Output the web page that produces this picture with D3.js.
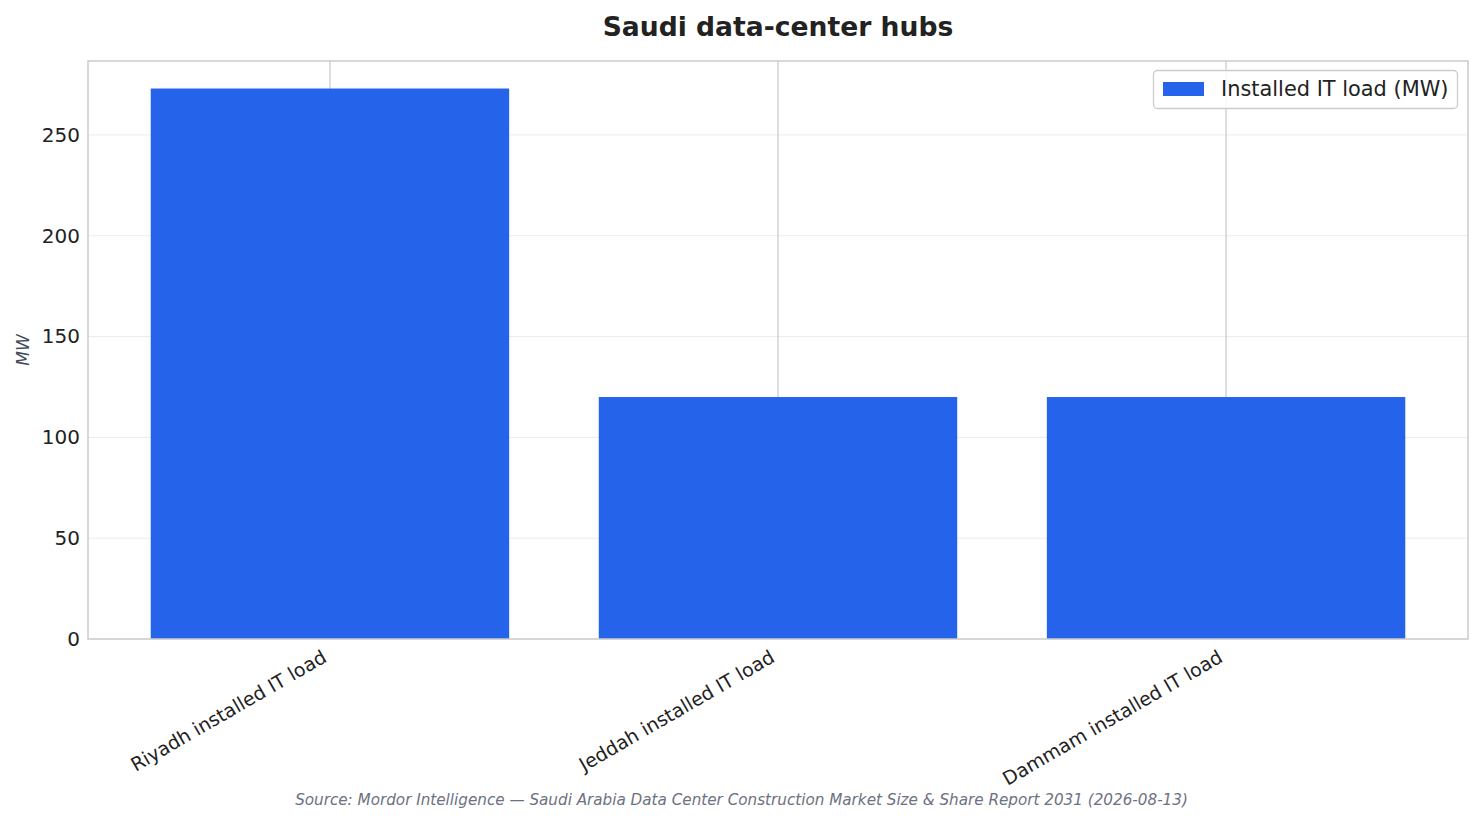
<!DOCTYPE html>
<html>
<head>
<meta charset="utf-8">
<script src="https://cdn.jsdelivr.net/npm/d3@7"></script>
<style>
  body { margin: 0; background: #fff; }
  svg { display: block; font-family: "DejaVu Sans", sans-serif; }
</style>
</head>
<body>
<svg id="chart" width="1483" height="824"></svg>
<script>
const categories = ["Riyadh installed IT load", "Jeddah installed IT load", "Dammam installed IT load"];
const values = [273, 120, 120];
const seriesName = "Installed IT load (MW)";
const yTicks = [0, 50, 100, 150, 200, 250];
const titleText = "Saudi data-center hubs";
const yLabel = "MW";
const sourceText = "Source: Mordor Intelligence — Saudi Arabia Data Center Construction Market Size & Share Report 2031 (2026-08-13)";

const W = 1483, H = 824;
const m = { left: 88, right: 15, top: 61, bottom: 185 };
const svg = d3.select("#chart");
const x0 = m.left, x1 = W - m.right, y0 = H - m.bottom, y1 = m.top;

const x = d3.scaleBand().domain(categories).range([x0, x1]).paddingInner(0.2).paddingOuter(0.14);
const y = d3.scaleLinear().domain([0, d3.max(values) * 1.05]).range([y0, y1]);

// horizontal grid
svg.append("g").selectAll("line").data(yTicks).join("line")
  .attr("x1", x0).attr("x2", x1)
  .attr("y1", d => y(d)).attr("y2", d => y(d))
  .attr("stroke", "#ebebeb").attr("stroke-width", 1);

// vertical grid at category centers
svg.append("g").selectAll("line").data(categories).join("line")
  .attr("x1", d => x(d) + x.bandwidth() / 2).attr("x2", d => x(d) + x.bandwidth() / 2)
  .attr("y1", y0).attr("y2", y1)
  .attr("stroke", "#cccccc").attr("stroke-width", 1.3);

// bars
svg.append("g").selectAll("rect").data(categories).join("rect")
  .attr("x", d => x(d)).attr("width", x.bandwidth())
  .attr("y", (d, i) => y(values[i])).attr("height", (d, i) => y(0) - y(values[i]))
  .attr("fill", "#2563eb");

// frame
svg.append("rect").attr("x", x0).attr("y", y1).attr("width", x1 - x0).attr("height", y0 - y1)
  .attr("fill", "none").attr("stroke", "#cccccc").attr("stroke-width", 1.5);

// y axis
const yAxis = d3.axisLeft(y).tickValues(yTicks).tickSize(0).tickPadding(8);
const gy = svg.append("g").attr("transform", `translate(${x0},0)`).call(yAxis);
gy.select(".domain").remove();
gy.selectAll("text").attr("font-size", 20).attr("fill", "#222").attr("font-family", "DejaVu Sans");

// x axis
const xAxis = d3.axisBottom(x).tickSize(0).tickPadding(0);
const gx = svg.append("g").attr("transform", `translate(0,${y0})`).call(xAxis);
gx.select(".domain").remove();
gx.selectAll("text")
  .attr("font-size", 19).attr("fill", "#222").attr("font-family", "DejaVu Sans")
  .attr("text-anchor", "end").attr("dy", null).attr("y", 0)
  .attr("transform", "translate(-2,22) rotate(-30)");

// title
svg.append("text").attr("x", (x0 + x1) / 2).attr("y", 36).attr("text-anchor", "middle")
  .attr("font-size", 26.6).attr("font-weight", "bold").attr("fill", "#222").text(titleText);

// y label
svg.append("text").attr("transform", `translate(29,${(y0 + y1) / 2}) rotate(-90)`)
  .attr("text-anchor", "middle").attr("font-size", 17).attr("font-style", "italic")
  .attr("fill", "#3f4a5a").text(yLabel);

// source
svg.append("text").attr("x", W / 2).attr("y", 805).attr("text-anchor", "middle")
  .attr("font-size", 15.2).attr("font-style", "italic").attr("fill", "#6b7280").text(sourceText);

// legend
const lg = svg.append("g");
lg.append("rect").attr("x", 1153.5).attr("y", 70.5).attr("width", 304).attr("height", 38).attr("rx", 4)
  .attr("fill", "#fff").attr("fill-opacity", 0.85).attr("stroke", "#cccccc").attr("stroke-width", 1.3);
lg.append("rect").attr("x", 1163).attr("y", 82).attr("width", 41).attr("height", 14).attr("fill", "#2563eb");
lg.append("text").attr("x", 1221).attr("y", 96).attr("font-size", 20.9).attr("fill", "#222").text(seriesName);
</script>
</body>
</html>
